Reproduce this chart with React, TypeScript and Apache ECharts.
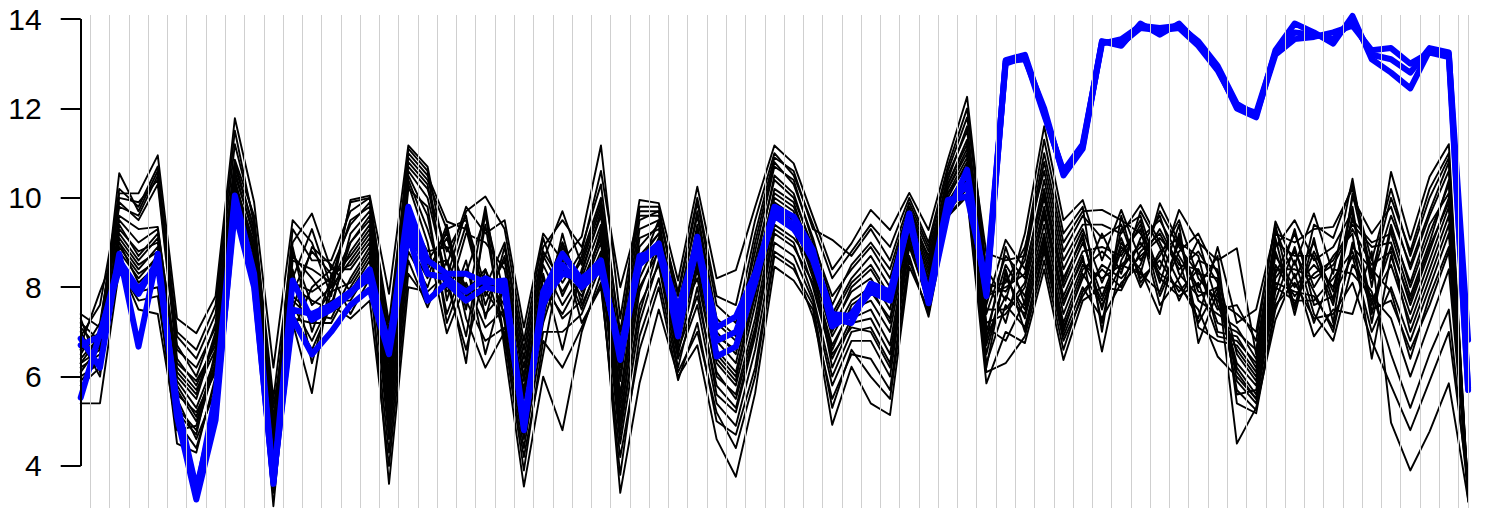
import React, { useEffect, useRef } from "react";
import * as echarts from "echarts";

// y axis tick labels and visible range
const yTicks = [4, 6, 8, 10, 12, 14];
const yMin = 3.06;
const yMax = 14.09;

// 73 positions along x
const positions = Array.from({ length: 73 }, (_, i) => i + 1);

// Black profiles: values of the 20 black lines at each position
const k00 = [7.4, 7.2, 6.9, 7.1, 6.6, 6.3, 7.0, 6.5, 6.1, 6.8, 6.2, 6.7, 6.0, 6.4, 7.3, 5.9, 6.6, 5.4, 6.3, 5.8];
const k01 = [7.1, 6.8, 7.6, 6.6, 7.0, 6.9, 6.2, 7.2, 6.7, 6.0, 6.5, 7.9, 6.3, 6.9, 6.1, 6.4, 7.0, 5.4, 6.6, 6.2];
const k02 = [10.1, 10.55, 10.0, 9.9, 10.2, 9.6, 9.3, 9.8, 9.1, 8.9, 9.4, 9.0, 8.7, 9.2, 8.5, 8.8, 9.5, 8.4, 8.6, 9.0];
const k03 = [10.1, 9.7, 9.9, 9.5, 9.8, 9.3, 8.8, 9.6, 8.5, 8.3, 8.7, 8.1, 7.9, 8.6, 7.5, 8.2, 9.0, 7.7, 8.0, 8.4];
const k04 = [10.95, 10.6, 10.4, 10.3, 10.7, 9.35, 9.0, 10.5, 8.8, 8.6, 9.2, 8.5, 8.0, 9.1, 7.4, 8.7, 9.3, 7.8, 8.3, 8.9];
const k05 = [7.3, 6.9, 6.6, 6.4, 7.0, 6.2, 5.9, 6.7, 5.7, 5.5, 6.0, 5.3, 4.5, 6.1, 4.8, 5.6, 6.3, 5.0, 5.8, 5.2];
const k06 = [6.97, 6.4, 6.2, 5.8, 6.6, 5.7, 5.3, 6.0, 5.0, 4.6, 5.5, 4.8, 4.3, 5.6, 4.9, 5.2, 5.9, 4.4, 5.1, 4.7];
const k07 = [7.8, 7.4, 7.1, 6.8, 7.6, 6.6, 6.4, 7.2, 6.2, 5.7, 6.9, 6.3, 6.0, 7.0, 6.5, 6.1, 6.7, 5.9, 6.3, 6.6];
const k08 = [11.78, 11.2, 10.8, 10.5, 11.5, 10.3, 10.1, 10.85, 10.0, 9.8, 10.6, 9.9, 9.6, 10.4, 9.7, 10.2, 10.7, 9.7, 10.0, 10.3];
const k09 = [9.9, 9.5, 9.3, 9.2, 9.4, 9.0, 8.8, 9.6, 8.6, 8.3, 9.1, 8.5, 8.0, 8.9, 8.2, 8.7, 9.3, 7.9, 8.4, 8.8];
const k10 = [6.2, 5.5, 5.0, 4.8, 5.3, 4.6, 4.4, 5.1, 4.2, 3.8, 4.5, 4.0, 3.1, 4.3, 3.6, 4.1, 4.7, 3.4, 3.9, 4.2];
const k11 = [9.5, 9.0, 8.7, 9.3, 8.2, 7.8, 8.9, 7.5, 8.4, 7.2, 8.0, 7.0, 7.6, 8.6, 7.3, 8.8, 7.9, 7.4, 8.1, 7.7];
const k12 = [9.0, 9.65, 8.2, 8.6, 9.3, 7.4, 7.0, 8.9, 6.3, 5.63, 7.7, 8.0, 6.8, 8.4, 7.2, 7.6, 8.8, 6.6, 7.9, 7.3];
const k13 = [7.8, 8.4, 7.6, 8.6, 8.0, 7.3, 8.2, 8.5, 7.9, 8.3, 7.5, 8.4, 7.7, 8.1, 7.2, 8.0, 8.3, 7.6, 8.2, 7.9];
const k14 = [9.95, 9.4, 9.0, 9.7, 8.6, 8.2, 9.5, 7.9, 8.8, 7.4, 9.2, 8.4, 7.7, 9.0, 8.0, 9.9, 8.5, 7.3, 8.7, 8.1];
const k15 = [10.05, 9.9, 9.5, 10.0, 9.2, 8.9, 9.8, 8.6, 9.4, 8.2, 9.7, 9.0, 8.4, 9.6, 8.7, 10.0, 9.1, 7.7, 9.3, 8.8];
const k16 = [7.85, 7.2, 6.5, 7.0, 6.1, 5.5, 6.8, 5.0, 5.8, 4.3, 6.3, 4.8, 3.6, 5.9, 4.6, 6.6, 5.3, 4.0, 5.6, 5.1];
const k17 = [11.17, 10.9, 10.6, 11.0, 10.4, 9.5, 10.7, 9.0, 10.5, 8.6, 10.8, 9.3, 8.0, 10.3, 8.8, 11.1, 9.6, 8.3, 10.2, 9.1];
const k18 = [10.7, 10.4, 10.0, 10.5, 9.3, 8.6, 10.2, 8.2, 9.6, 7.55, 10.3, 8.4, 7.9, 9.0, 8.0, 10.6, 8.8, 7.7, 9.8, 8.5];
const k19 = [8.5, 9.3, 8.2, 9.47, 7.9, 9.2, 8.8, 9.4, 7.4, 8.6, 8.0, 9.1, 8.3, 6.97, 9.3, 7.7, 8.9, 8.1, 7.2, 8.6];
const k20 = [9.8, 9.5, 9.7, 9.3, 8.3, 7.9, 9.6, 7.5, 8.6, 6.9, 9.4, 7.8, 6.3, 8.1, 7.3, 9.2, 8.0, 6.6, 8.4, 7.7];
const k21 = [9.2, 8.0, 10.03, 7.6, 9.6, 8.4, 7.3, 9.8, 6.5, 9.4, 7.8, 8.2, 9.7, 7.1, 6.2, 9.0, 7.9, 8.4, 7.4, 6.8];
const k22 = [9.5, 9.0, 9.3, 8.7, 7.8, 7.4, 8.9, 7.2, 8.1, 6.8, 8.6, 7.6, 6.6, 7.5, 7.0, 8.4, 7.3, 6.9, 7.9, 7.1];
const k23 = [7.1, 6.6, 6.8, 6.2, 5.5, 5.0, 6.4, 4.6, 5.7, 4.2, 6.0, 4.8, 3.54, 5.2, 4.4, 5.9, 5.3, 3.9, 5.6, 4.9];
const k24 = [9.2, 8.9, 9.1, 8.6, 8.0, 7.6, 8.8, 7.3, 8.3, 6.5, 8.7, 7.8, 6.0, 7.5, 7.0, 8.5, 7.4, 6.8, 8.2, 7.2];
const k25 = [8.6, 9.5, 7.8, 9.7, 7.4, 9.0, 8.1, 9.2, 6.6, 8.8, 7.9, 9.0, 4.8, 8.4, 7.0, 7.6, 8.9, 6.2, 7.3, 8.6];
const k26 = [9.13, 8.9, 8.7, 8.5, 8.2, 7.9, 8.8, 7.6, 8.4, 7.2, 8.6, 8.0, 7.0, 7.8, 7.4, 8.3, 8.1, 7.1, 7.7, 7.5];
const k27 = [11.17, 10.3, 10.0, 9.8, 9.4, 9.0, 10.6, 8.6, 9.6, 8.0, 9.9, 9.2, 8.3, 8.8, 8.5, 9.7, 9.1, 8.1, 9.3, 8.7];
const k28 = [7.3, 6.8, 7.0, 6.2, 5.6, 5.0, 8.0, 4.7, 5.9, 4.2, 6.5, 5.3, 3.4, 5.1, 4.5, 6.0, 5.5, 3.8, 6.3, 4.9];
const k29 = [9.95, 9.7, 9.8, 9.3, 8.6, 8.0, 9.6, 7.6, 8.9, 6.6, 9.5, 8.2, 5.85, 7.9, 7.2, 9.1, 8.4, 6.9, 8.7, 7.4];
const k30 = [9.88, 9.7, 9.8, 9.5, 9.2, 8.8, 9.6, 8.5, 9.4, 8.0, 9.7, 9.1, 7.5, 9.0, 8.6, 9.3, 9.5, 8.2, 9.2, 8.9];
const k31 = [8.15, 7.8, 7.5, 7.2, 6.8, 6.5, 7.9, 6.2, 7.0, 5.92, 7.6, 6.7, 6.0, 7.3, 6.4, 7.4, 7.1, 6.1, 6.9, 6.6];
const k32 = [10.25, 9.9, 9.7, 9.4, 8.9, 8.4, 10.0, 8.0, 9.1, 7.2, 9.6, 8.6, 6.7, 8.2, 7.6, 9.3, 8.8, 7.0, 8.5, 7.8];
const k33 = [8.2, 7.6, 7.3, 7.0, 6.5, 6.0, 7.8, 5.6, 6.8, 5.0, 7.2, 6.3, 4.6, 6.1, 5.4, 6.9, 6.6, 5.2, 6.4, 5.8];
const k34 = [8.38, 7.2, 6.9, 6.5, 6.0, 5.6, 7.6, 5.2, 6.3, 4.7, 6.8, 5.8, 3.76, 5.5, 4.9, 6.6, 6.1, 4.4, 5.9, 5.3];
const k35 = [9.8, 9.2, 8.8, 8.4, 7.8, 7.3, 9.5, 6.9, 8.1, 6.2, 9.0, 7.6, 5.63, 7.1, 6.6, 8.6, 7.9, 6.0, 8.3, 7.0];
const k36 = [11.17, 10.9, 10.7, 10.5, 10.0, 9.6, 11.0, 9.3, 10.2, 8.8, 10.8, 9.8, 8.46, 9.4, 9.0, 10.4, 9.9, 8.7, 10.1, 9.2];
const k37 = [10.77, 10.6, 10.4, 10.1, 9.7, 9.3, 10.5, 9.0, 9.9, 8.5, 10.3, 9.5, 8.15, 9.1, 8.7, 10.0, 9.6, 8.4, 9.8, 8.9];
const k38 = [9.58, 9.3, 9.0, 8.8, 8.4, 8.0, 9.4, 7.8, 8.6, 7.34, 9.1, 8.2, 7.5, 8.5, 7.7, 8.9, 8.3, 7.6, 8.7, 8.1];
const k39 = [8.4, 9.06, 7.8, 7.3, 6.9, 6.4, 8.2, 6.0, 7.1, 5.5, 7.6, 6.7, 4.92, 6.2, 5.8, 7.4, 6.6, 5.3, 7.0, 6.5];
const k40 = [8.98, 8.7, 8.4, 8.1, 7.7, 7.3, 8.8, 7.0, 7.9, 6.5, 8.5, 7.5, 6.22, 7.2, 6.8, 8.2, 7.6, 6.6, 8.0, 7.1];
const k41 = [9.73, 9.3, 8.9, 8.5, 8.0, 7.5, 9.4, 7.1, 8.2, 6.4, 9.0, 7.7, 5.4, 7.3, 6.8, 8.7, 7.9, 6.0, 8.4, 7.0];
const k42 = [9.28, 8.6, 8.2, 7.8, 7.2, 6.7, 8.9, 6.3, 7.5, 5.7, 8.4, 7.0, 5.14, 6.5, 6.0, 8.0, 7.3, 5.5, 7.7, 6.2];
const k43 = [10.11, 9.9, 9.8, 9.6, 9.4, 9.2, 10.0, 9.0, 9.5, 8.7, 9.8, 9.3, 8.46, 9.1, 8.9, 9.7, 9.4, 8.6, 9.6, 9.0];
const k44 = [9.28, 8.9, 8.6, 8.4, 8.1, 7.8, 9.0, 7.6, 8.3, 7.34, 8.8, 8.0, 7.5, 7.9, 7.7, 8.5, 8.2, 7.4, 8.7, 7.9];
const k45 = [10.85, 10.6, 10.5, 10.3, 10.1, 9.9, 10.7, 9.8, 10.2, 9.6, 10.4, 10.0, 9.58, 9.9, 9.7, 10.3, 10.1, 9.7, 10.2, 9.8];
const k46 = [12.26, 11.8, 11.5, 11.2, 10.9, 10.6, 12.0, 10.4, 11.0, 10.1, 11.6, 10.8, 10.03, 10.5, 10.3, 11.3, 10.7, 10.2, 11.1, 10.6];
const k47 = [8.4, 8.76, 8.0, 7.6, 7.2, 6.8, 8.2, 6.5, 7.4, 6.1, 8.1, 7.0, 5.85, 6.7, 6.3, 7.8, 7.1, 6.2, 7.5, 6.9];
const k48 = [7.7, 8.6, 8.1, 9.06, 7.4, 8.9, 7.2, 8.3, 8.7, 6.3, 7.9, 8.5, 7.0, 8.2, 7.6, 8.0, 6.8, 8.4, 7.5, 7.8];
const k49 = [9.2, 8.7, 8.9, 8.4, 8.0, 7.6, 8.8, 7.3, 8.2, 6.9, 8.6, 7.8, 6.75, 7.5, 7.1, 8.3, 7.7, 7.0, 8.1, 7.4];
const k50 = [11.6, 11.0, 10.6, 10.2, 9.8, 9.4, 11.3, 9.1, 10.0, 8.6, 10.8, 9.6, 8.4, 9.2, 8.9, 10.4, 9.7, 8.8, 10.1, 9.0];
const k51 = [9.5, 9.0, 8.6, 8.2, 7.8, 7.4, 9.2, 7.1, 8.0, 6.6, 8.8, 7.6, 6.37, 7.2, 6.9, 8.4, 7.7, 6.8, 8.1, 7.0];
const k52 = [9.95, 9.7, 9.4, 9.1, 8.8, 8.5, 9.8, 8.2, 9.0, 7.9, 9.6, 8.7, 7.7, 8.4, 8.0, 9.3, 8.6, 7.8, 9.2, 8.3];
const k53 = [8.6, 9.73, 9.4, 7.5, 8.9, 8.2, 7.0, 9.2, 7.8, 8.4, 9.1, 6.56, 8.0, 8.8, 7.3, 8.1, 7.7, 8.5, 7.2, 7.6];
const k54 = [9.73, 9.5, 9.2, 9.0, 8.7, 8.5, 9.6, 8.3, 8.9, 8.0, 9.4, 8.6, 7.93, 8.4, 8.1, 9.1, 8.8, 8.2, 9.3, 8.5];
const k55 = [8.6, 9.2, 9.84, 8.3, 9.5, 8.9, 8.1, 9.7, 8.4, 9.1, 8.2, 9.4, 8.8, 9.0, 8.5, 8.0, 9.3, 8.7, 9.6, 8.3];
const k56 = [9.3, 8.4, 9.0, 9.88, 7.8, 9.6, 8.7, 8.9, 7.4, 9.5, 8.6, 8.1, 9.2, 8.3, 9.7, 8.8, 7.6, 9.1, 8.2, 7.9];
const k57 = [8.5, 9.73, 8.1, 9.0, 8.8, 8.3, 9.5, 7.7, 9.2, 8.7, 7.9, 9.4, 8.4, 8.0, 8.9, 9.1, 8.2, 8.6, 7.8, 9.0];
const k58 = [8.4, 9.0, 7.3, 8.7, 9.2, 7.8, 8.2, 8.6, 7.1, 8.0, 8.4, 6.75, 8.8, 7.5, 8.3, 7.7, 9.06, 7.2, 8.1, 7.9];
const k59 = [7.5, 8.6, 8.9, 7.0, 8.3, 8.0, 7.7, 8.4, 6.8, 8.7, 7.2, 7.9, 8.1, 6.45, 8.2, 7.4, 7.6, 8.0, 6.9, 7.8];
const k60 = [7.6, 8.87, 7.2, 6.9, 6.5, 6.2, 7.4, 5.9, 6.7, 5.4, 7.0, 6.3, 4.5, 6.0, 5.6, 7.1, 6.6, 5.7, 6.8, 6.1];
const k61 = [6.8, 6.5, 7.5, 6.2, 5.9, 5.6, 7.0, 5.4, 6.1, 5.18, 6.6, 5.8, 5.3, 5.5, 5.7, 6.4, 6.0, 5.25, 6.3, 5.5];
const k62 = [9.47, 9.2, 9.3, 8.9, 8.5, 8.2, 9.4, 7.9, 8.7, 7.5, 9.1, 8.3, 7.27, 8.0, 7.7, 8.8, 8.4, 7.6, 9.0, 8.1];
const k63 = [8.5, 9.0, 8.2, 9.5, 7.8, 8.8, 7.5, 9.3, 8.0, 8.6, 7.38, 9.2, 8.3, 7.7, 8.9, 7.6, 8.4, 8.1, 8.7, 7.9];
const k64 = [9.65, 9.3, 9.0, 8.6, 8.3, 7.9, 9.4, 7.6, 8.5, 7.2, 9.1, 8.0, 6.9, 7.7, 7.4, 8.8, 8.2, 7.3, 8.7, 7.8];
const k65 = [8.3, 9.35, 7.7, 8.9, 8.6, 7.0, 9.1, 7.8, 8.0, 8.4, 7.2, 8.7, 7.5, 8.2, 6.8, 7.9, 8.5, 7.4, 7.6, 7.1];
const k66 = [10.43, 10.2, 10.0, 9.7, 9.4, 9.0, 10.3, 8.7, 9.5, 8.3, 10.1, 9.2, 7.4, 8.8, 8.5, 9.8, 9.3, 8.1, 9.6, 8.9];
const k67 = [8.0, 8.6, 9.2, 7.4, 8.9, 7.7, 8.3, 7.0, 9.0, 7.8, 8.2, 6.4, 8.8, 7.5, 7.9, 7.2, 8.5, 6.8, 7.6, 8.4];
const k68 = [10.58, 10.2, 9.8, 9.4, 9.0, 8.5, 10.0, 8.0, 9.2, 7.3, 9.6, 8.7, 4.97, 7.7, 6.5, 9.3, 8.8, 5.8, 8.9, 7.9];
const k69 = [9.06, 8.7, 8.4, 8.0, 7.6, 7.2, 8.8, 6.8, 7.8, 6.0, 8.5, 7.4, 3.9, 6.6, 5.3, 8.1, 7.0, 4.8, 7.7, 6.4];
const k70 = [10.47, 10.0, 9.6, 9.2, 8.8, 8.4, 10.2, 8.0, 9.0, 7.2, 9.7, 8.6, 4.77, 7.6, 6.5, 9.4, 8.2, 5.9, 8.9, 7.8];
const k71 = [11.2, 10.9, 10.6, 10.3, 10.0, 9.6, 11.0, 9.2, 10.4, 8.4, 10.8, 9.8, 5.85, 8.8, 7.5, 10.1, 9.4, 7.0, 9.9, 8.9];
const k72 = [3.3, 3.4, 3.25, 3.5, 3.3, 3.45, 3.2, 3.6, 3.35, 3.5, 3.3, 3.4, 3.25, 3.55, 3.4, 3.3, 3.45, 3.6, 3.35, 3.5];

// Blue lines
const blueA = [6.85, 6.2, 8.75, 6.67, 8.75, 5.1, 3.25, 5.03, 9.95, 8.1, 3.6, 8.15, 7.27, 7.5, 7.85, 8.4, 6.6, 9.8, 8.6, 8.3, 8.3, 8.1, 8.15, 4.8, 7.9, 8.75, 8.16, 8.6, 6.37, 8.6, 8.98, 6.9, 9.13, 6.45, 6.67, 8.1, 9.8, 9.58, 8.83, 7.12, 7.4, 8.0, 7.79, 9.65, 7.64, 9.65, 10.63, 7.8, 13.08, 13.2, 11.9, 10.55, 11.15, 13.5, 13.4, 13.9, 13.65, 13.9, 13.45, 12.9, 12.0, 11.8, 13.3, 13.9, 13.7, 13.45, 14.07, 13.1, 12.8, 12.45, 13.3, 13.2, 6.82];
const blueB = [5.53, 6.97, 8.4, 7.85, 8.6, 5.3, 3.35, 5.6, 10.05, 8.3, 3.7, 7.3, 6.5, 7.0, 7.6, 7.95, 6.5, 9.2, 7.7, 8.1, 7.7, 8.0, 7.9, 4.9, 7.6, 8.5, 8.0, 8.4, 6.6, 8.5, 8.9, 7.5, 9.0, 7.1, 7.34, 8.3, 9.7, 9.4, 8.6, 7.3, 7.2, 8.08, 7.9, 9.5, 7.8, 9.95, 10.03, 8.1, 13.0, 13.15, 11.85, 10.6, 11.2, 13.45, 13.55, 13.85, 13.8, 13.85, 13.5, 12.95, 12.1, 11.85, 13.2, 13.55, 13.6, 13.7, 13.85, 13.3, 13.35, 13.0, 13.25, 13.15, 5.7];
const blueC = [6.7, 6.9, 8.6, 7.95, 8.5, 5.4, 3.5, 5.3, 9.7, 8.0, 3.65, 7.5, 7.4, 7.6, 7.9, 8.2, 6.7, 9.5, 8.3, 8.2, 7.9, 8.2, 8.0, 5.0, 7.7, 8.3, 8.2, 8.5, 6.5, 8.7, 8.8, 7.2, 8.9, 6.8, 7.0, 8.2, 9.6, 9.3, 8.7, 7.4, 7.35, 7.9, 7.7, 9.55, 7.7, 9.8, 10.3, 7.9, 13.05, 13.1, 12.0, 10.5, 11.1, 13.5, 13.45, 13.8, 13.75, 13.8, 13.4, 12.85, 12.05, 11.9, 13.25, 13.7, 13.65, 13.55, 13.95, 13.2, 13.1, 12.8, 13.35, 13.25, 5.75];

const blackRows = [
  k00, k01, k02, k03, k04, k05, k06, k07, k08, k09,
  k10, k11, k12, k13, k14, k15, k16, k17, k18, k19,
  k20, k21, k22, k23, k24, k25, k26, k27, k28, k29,
  k30, k31, k32, k33, k34, k35, k36, k37, k38, k39,
  k40, k41, k42, k43, k44, k45, k46, k47, k48, k49,
  k50, k51, k52, k53, k54, k55, k56, k57, k58, k59,
  k60, k61, k62, k63, k64, k65, k66, k67, k68, k69,
  k70, k71, k72,
];
const blueLines = [blueA, blueB, blueC];

export default function App() {
  const ref = useRef<HTMLDivElement>(null);

  useEffect(() => {
    if (!ref.current) return;
    const chart = echarts.init(ref.current, null, { renderer: "svg" });

    const nBlack = blackRows[0].length;
    const series: any[] = [];

    // vertical grey guide lines between positions, plus one at the last position
    const guideLines = positions
      .slice(0, -1)
      .map((x, i) => ({ xAxis: (x + positions[i + 1]) / 2 }))
      .concat([{ xAxis: positions[positions.length - 1] }]);

    series.push({
      type: "line",
      data: [[positions[0], yTicks[0]]],
      symbol: "none",
      lineStyle: { opacity: 0 },
      z: 1,
      silent: true,
      clip: false,
      markLine: {
        silent: true,
        symbol: ["none", "none"],
        label: { show: false },
        lineStyle: { color: "#cfcfcf", width: 1, type: "solid" },
        data: guideLines,
        animation: false,
      },
    });

    for (let i = 0; i < nBlack; i++) {
      series.push({
        type: "line",
        data: positions.map((x, k) => [x, blackRows[k][i]]),
        symbol: "none",
        clip: false,
        silent: true,
        z: 2,
        lineStyle: { color: "#000000", width: 1.9, join: "round", cap: "round" },
      });
    }

    blueLines.forEach((arr) => {
      series.push({
        type: "line",
        data: positions.map((x, k) => [x, arr[k]]),
        symbol: "none",
        clip: false,
        silent: true,
        z: 3,
        lineStyle: { color: "#0000ff", width: 6, join: "round", cap: "round" },
      });
    });

    // y axis line from the first to the last tick
    series.push({
      type: "line",
      data: [[positions[0], yTicks[0]]],
      symbol: "none",
      lineStyle: { opacity: 0 },
      z: 4,
      silent: true,
      clip: false,
      markLine: {
        silent: true,
        symbol: ["none", "none"],
        label: { show: false },
        lineStyle: { color: "#000000", width: 2, type: "solid" },
        data: [
          [
            { coord: [positions[0], yTicks[0]] },
            { coord: [positions[0], yTicks[yTicks.length - 1]] },
          ],
        ],
        animation: false,
      },
    });

    chart.setOption({
      animation: false,
      backgroundColor: "#ffffff",
      grid: { left: 80.7, right: 18.9, top: 15, bottom: 0, containLabel: false },
      xAxis: {
        type: "value",
        min: positions[0],
        max: positions[positions.length - 1],
        show: true,
        axisLine: { show: false },
        axisTick: { show: false },
        axisLabel: { show: false },
        splitLine: { show: false },
      },
      yAxis: {
        type: "value",
        min: yMin,
        max: yMax,
        axisLine: { show: false },
        splitLine: { show: false },
        axisTick: {
          show: true,
          customValues: yTicks,
          length: 20,
          lineStyle: { color: "#000000", width: 2 },
        },
        axisLabel: {
          show: true,
          customValues: yTicks,
          margin: 39,
          fontSize: 30,
          color: "#000000",
          fontFamily: "'Liberation Sans', Arial, sans-serif",
        },
      },
      series,
    });

    return () => chart.dispose();
  }, []);

  return (
    <div
      ref={ref}
      style={{ position: "fixed", left: 0, top: 0, width: 1487, height: 508, background: "#fff" }}
    />
  );
}
